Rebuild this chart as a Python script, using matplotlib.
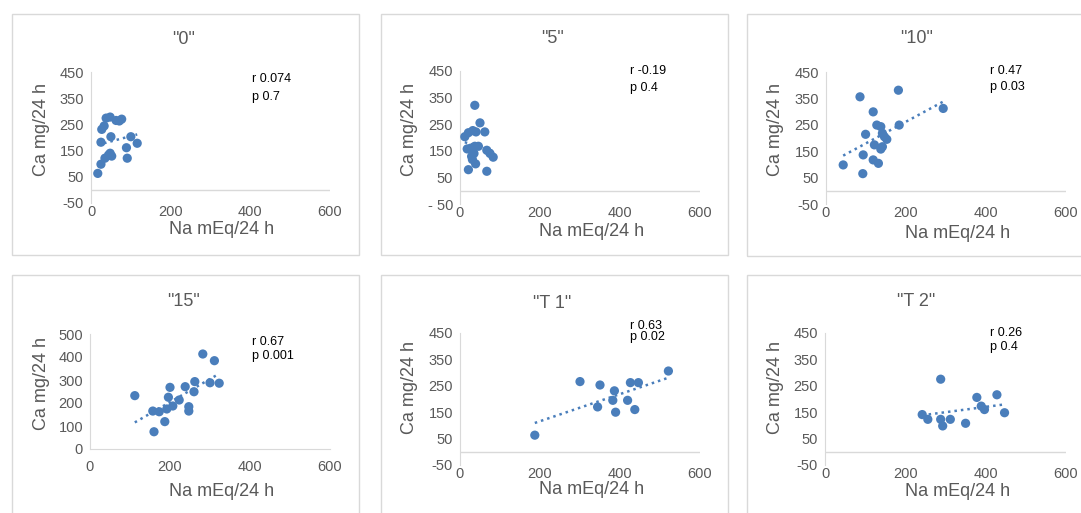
#Imports
import numpy as np
import matplotlib
matplotlib.use("Agg")
import matplotlib.pyplot as plt
from matplotlib.patches import Rectangle

plt.rcParams['font.family'] = ['Liberation Sans', 'DejaVu Sans']

W, H = 1081, 513
blue = '#4a7ebb'
grey = '#595959'
line_grey = '#d9d9d9'

#Data (Na mEq/24 h vs Ca mg/24 h)
titles = ['"0"', '"5"', '"10"', '"15"', '"T 1"', '"T 2"']
stats_r = ['r 0.074', 'r -0.19', 'r 0.47', 'r 0.67', 'r 0.63', 'r 0.26']
stats_p = ['p 0.7', 'p 0.4', 'p 0.03', 'p 0.001', 'p 0.02', 'p 0.4']

na_0 = [17, 25, 25, 27, 33, 38, 48, 63, 71, 77, 50, 100, 89, 116, 91, 35, 48, 52, 44]
ca_0 = [63, 98, 182, 231, 244, 274, 278, 265, 263, 270, 203, 203, 161, 178, 121, 121, 140, 129, 133]

na_5 = [37, 50, 62, 12, 21, 32, 40, 18, 37, 46, 67, 75, 83, 29, 31, 39, 21, 67, 27, 35]
ca_5 = [321, 255, 221, 203, 218, 226, 221, 157, 167, 167, 152, 140, 126, 129, 117, 101, 79, 73, 160, 140]

na_10 = [43, 92, 85, 181, 118, 293, 183, 127, 137, 99, 141, 146, 152, 121, 141, 137, 93, 118, 131]
ca_10 = [98, 65, 356, 381, 299, 312, 249, 249, 243, 214, 218, 205, 195, 174, 167, 158, 136, 117, 104]

na_15 = [112, 160, 187, 157, 173, 192, 207, 223, 196, 200, 238, 260, 262, 247, 247, 282, 311, 300, 323]
ca_15 = [232, 75, 119, 165, 162, 174, 187, 213, 225, 268, 271, 249, 293, 184, 165, 413, 384, 288, 286]

na_t1 = [187, 300, 350, 386, 382, 344, 389, 419, 437, 426, 446, 521]
ca_t1 = [63, 266, 253, 231, 195, 170, 150, 195, 160, 262, 262, 306]

na_t2 = [242, 256, 288, 288, 293, 312, 350, 378, 389, 397, 428, 447]
ca_t2 = [141, 123, 275, 123, 98, 123, 108, 206, 173, 160, 216, 148]

na_all = [na_0, na_5, na_10, na_15, na_t1, na_t2]
ca_all = [ca_0, ca_5, ca_10, ca_15, ca_t1, ca_t2]

yticks_std = [-50, 50, 150, 250, 350, 450]
ylabels_std = ['-50', '50', '150', '250', '350', '450']
ylabels_5 = ['- 50', '50', '150', '250', '350', '450']
yticks_15 = [0, 100, 200, 300, 400, 500]
ylabels_15 = ['0', '100', '200', '300', '400', '500']

#Layout in pixels
# panel box (left, top, right, bottom), axes box (left, top, right, bottom)
panels = [
	((12, 14, 359, 255), (91, 72, 330, 203)),
	((381, 14, 728, 255), (460, 71, 700, 204)),
	((747, 14, 1090, 256), (826, 72, 1066, 204)),
	((12, 275, 359, 520), (90, 334, 330, 449)),
	((381, 275, 728, 520), (460, 333, 700, 465)),
	((747, 275, 1090, 520), (825, 333, 1066, 465)),
]
title_pos = [(184, 40), (553, 39), (917, 39), (183, 302), (552, 303), (916, 302)]
xlab_pos = [(222, 230), (592, 232), (958, 233), (222, 492), (592, 490), (958, 491)]
ylab_pos = [(42, 130), (410, 129), (775, 129), (42, 383), (410, 388), (775, 387)]
stat_pos = [(252, 79, 97), (630, 71, 88), (990, 71, 87), (252, 342, 356), (630, 326, 337), (990, 333, 347)]

def fx(x):
	return x / W

def fy(y):
	return 1 - y / H

fig = plt.figure(figsize=(W / 100, H / 100), dpi=100)

for i in range(6):
	pbox, abox = panels[i]
	fig.patches.append(Rectangle((fx(pbox[0]), fy(pbox[3])), (pbox[2] - pbox[0]) / W,
		(pbox[3] - pbox[1]) / H, transform=fig.transFigure, fill=False,
		edgecolor=line_grey, linewidth=1))

	ax = fig.add_axes([fx(abox[0]), fy(abox[3]), (abox[2] - abox[0]) / W, (abox[3] - abox[1]) / H])
	x = np.array(na_all[i], dtype=float)
	y = np.array(ca_all[i], dtype=float)

	# linear trendline from min to max x
	k, b = np.polyfit(x, y, 1)
	xt = np.array([x.min(), x.max()])
	ax.plot(xt, k * xt + b, linestyle=(0, (1, 1.6)), color=blue, linewidth=1.8, zorder=2)
	ax.scatter(x, y, s=44, color=blue, edgecolors='none', zorder=3)

	ax.set_xlim(0, 600)
	ax.set_xticks([0, 200, 400, 600])
	if i == 3:
		ax.set_ylim(0, 500)
		ax.set_yticks(yticks_15)
		ax.set_yticklabels(ylabels_15)
		xpad = 8
	else:
		ax.set_ylim(-50, 450)
		ax.set_yticks(yticks_std)
		ax.set_yticklabels(ylabels_5 if i == 1 else ylabels_std)
		ax.axhline(0, color=line_grey, linewidth=1, zorder=1)
		xpad = 1.5
	for s in ['top', 'right']:
		ax.spines[s].set_visible(False)
	ax.spines['bottom'].set_visible(i == 3)
	ax.spines['left'].set_color(line_grey)
	ax.spines['bottom'].set_color(line_grey)
	ax.tick_params(axis='both', length=0, labelsize=10.5, labelcolor=grey)
	ax.tick_params(axis='x', pad=xpad)
	ax.tick_params(axis='y', pad=5)
	ax.patch.set_alpha(0)

	fig.text(fx(title_pos[i][0]), fy(title_pos[i][1]), titles[i], ha='center', va='center',
		fontsize=13, color=grey)
	fig.text(fx(xlab_pos[i][0]), fy(xlab_pos[i][1]), 'Na mEq/24 h', ha='center', va='center',
		fontsize=13, color=grey)
	fig.text(fx(ylab_pos[i][0]), fy(ylab_pos[i][1]), 'Ca mg/24 h', ha='center', va='center',
		fontsize=13, color=grey, rotation=90)
	sx, ry, py = stat_pos[i]
	fig.text(fx(sx), fy(ry), stats_r[i], ha='left', va='center', fontsize=9, color='black')
	fig.text(fx(sx), fy(py), stats_p[i], ha='left', va='center', fontsize=9, color='black')

plt.savefig('out.png', dpi=100)
